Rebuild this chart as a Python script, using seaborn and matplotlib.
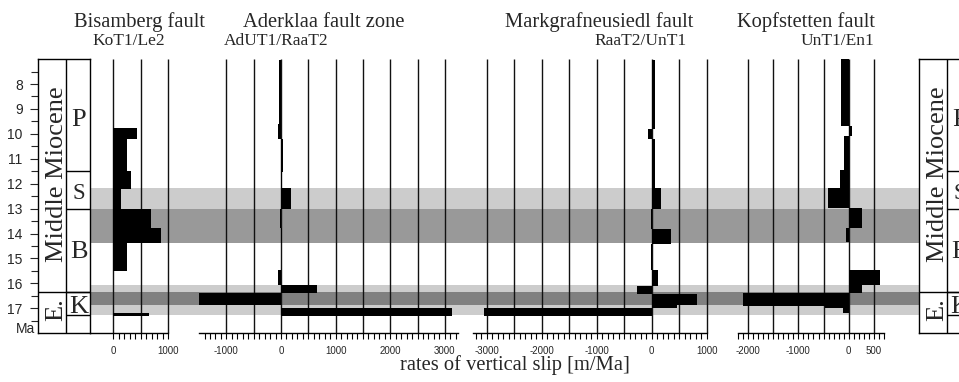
import numpy as np
import pandas as pd
import matplotlib
matplotlib.use("Agg")
import matplotlib.pyplot as plt
from matplotlib.ticker import FixedLocator, NullFormatter
import seaborn as sns

# ---------------- data ----------------
# Bisamberg fault (KoT1/Le2)
bis_top = [9.78, 10.22, 11.49, 12.20, 13.00, 13.77, 14.40, 17.17]
bis_bot = [10.22, 11.49, 12.20, 13.00, 13.77, 14.40, 15.50, 17.30]
bis_val = [430, 245, 320, 135, 680, 860, 255, 640]

# Aderklaa fault zone (AdUT1/RaaT2)
ade_top = [7.04, 9.60, 10.20, 11.52, 12.19, 13.02, 13.78, 14.38, 15.46, 16.07, 16.40, 16.97]
ade_bot = [9.60, 10.20, 11.52, 12.19, 13.02, 13.78, 14.38, 15.46, 16.07, 16.40, 16.87, 17.30]
ade_val = [-40, -60, 40, 10, 190, -25, 25, 5, -50, 660, -1500, 3140]

# Markgrafneusiedl fault (RaaT2/UnT1)
mark_top = [7.04, 9.80, 10.20, 12.19, 13.02, 13.80, 14.42, 15.46, 16.10, 16.42, 16.88, 17.00]
mark_bot = [9.80, 10.20, 12.19, 13.02, 13.80, 14.42, 15.46, 16.10, 16.42, 16.88, 17.00, 17.30]
mark_val = [50, -75, 60, 175, -10, 340, -15, 120, -270, 830, 455, -3050]

# Kopfstetten fault (UnT1/En1)
kopf_top = [7.00, 9.70, 10.10, 11.45, 12.19, 12.97, 13.77, 14.33, 15.46, 16.06, 16.39, 16.89, 17.00]
kopf_bot = [9.70, 10.10, 11.45, 12.19, 12.97, 13.77, 14.33, 15.46, 16.06, 16.39, 16.89, 17.00, 17.20]
kopf_val = [-160, 60, -100, -175, -405, 270, -60, 10, 625, 265, -2110, -470, -120]

fault_names = ["Bisamberg fault", "Aderklaa fault zone", "Markgrafneusiedl fault", "Kopfstetten fault"]
fault_codes = ["KoT1/Le2", "AdUT1/RaaT2", "RaaT2/UnT1", "UnT1/En1"]

grid_vals = [[0, 500, 1000],
             [-1000, -500, 0, 500, 1000, 1500, 2000, 2500, 3000],
             [-3000, -2500, -2000, -1500, -1000, -500, 0, 500, 1000],
             [-2000, -1500, -1000, -500, 0, 500]]
tick_labels = [[0, 1000],
               [-1000, 0, 1000, 2000, 3000],
               [-3000, -2000, -1000, 0, 1000],
               [-2000, -1000, 0, 500]]
minor_ranges = [(0, 1000), (-1400, 3200), (-3200, 1000), (-2200, 700)]
spine_bounds = [(-426, 1000), (-1500, 3240), (-3250, 1000), (-2200, 700)]

# stratigraphy
epoch_names = ["Middle Miocene", "E."]
epoch_bounds = [7.0, 16.36, 18.0]
stage_names = ["P", "S", "B", "K"]
stage_tops = [7.0, 11.5, 13.0, 16.36]
stage_bots = [11.5, 13.0, 16.36, 17.28]

# shaded intervals
light_tops = [12.18, 16.08]
light_bots = [13.00, 17.28]
dark_tops = [13.00, 16.36]
dark_bots = [14.38, 16.87]

age_ticks = list(range(8, 18))

# ---------------- figure ----------------
sns.set_style("white")
plt.rcParams["font.family"] = ["Liberation Serif", "DejaVu Serif"]
SANS = "Liberation Sans"

W, H = 959, 382
fig = plt.figure(figsize=(W / 100, H / 100), dpi=100)
Y0, Y1 = 59.1, 333.2
TMIN, TMAX = 7.0, 18.0


def ax_at(x0, x1, **kw):
    return fig.add_axes([x0 / W, 1 - Y1 / H, (x1 - x0) / W, (Y1 - Y0) / H], **kw)


# background bands
ax_bg = ax_at(90, 919)
ax_bg.set_ylim(TMAX, TMIN)
ax_bg.set_xlim(0, 1)
for t, b in zip(light_tops, light_bots):
    ax_bg.axhspan(t, b, color="#cccccc", lw=0)
ax_bg.axhspan(dark_tops[0], dark_bots[0], color="#999999", lw=0)
ax_bg.axhspan(dark_tops[1], dark_bots[1], color="#808080", lw=0)
ax_bg.axis("off")

# panels
panel_px = [(90, 186), (186, 466), (466, 724), (724, 919)]
zero_px = [113.4, 281.0, 651.8, 848.7]
scale_px = [0.0549, 0.0546, 0.0550, 0.0503]
tops = [bis_top, ade_top, mark_top, kopf_top]
bots = [bis_bot, ade_bot, mark_bot, kopf_bot]
vals = [bis_val, ade_val, mark_val, kopf_val]

for i in range(4):
    x0, x1 = panel_px[i]
    ax = ax_at(x0, x1)
    ax.patch.set_alpha(0)
    ax.set_xlim((x0 - zero_px[i]) / scale_px[i], (x1 - zero_px[i]) / scale_px[i])
    ax.set_ylim(TMAX, TMIN)
    df = pd.DataFrame({"top": tops[i], "bot": bots[i], "val": vals[i]})
    df["mid"] = (df["top"] + df["bot"]) / 2
    df["dur"] = df["bot"] - df["top"]
    ax.vlines(grid_vals[i], TMIN, TMAX, color="#111111", lw=1.0, zorder=1)
    ax.barh(df["mid"], df["val"], height=df["dur"], left=0, color="black", lw=0, zorder=2)
    for s in ["left", "right", "top"]:
        ax.spines[s].set_visible(False)
    ax.spines["bottom"].set_visible(True)
    ax.spines["bottom"].set_color("black")
    ax.spines["bottom"].set_linewidth(1.0)
    ax.spines["bottom"].set_bounds(*spine_bounds[i])
    ax.set_yticks([])
    ax.xaxis.set_major_locator(FixedLocator(tick_labels[i]))
    lo, hi = minor_ranges[i]
    ax.xaxis.set_minor_locator(FixedLocator(np.arange(lo, hi + 1, 100)))
    ax.xaxis.set_minor_formatter(NullFormatter())
    ax.set_xticklabels([str(v) for v in tick_labels[i]])
    ax.tick_params(axis="x", which="both", direction="out", bottom=True,
                   length=4.5, width=0.8, color="black", labelsize=7, pad=4.5,
                   labelfontfamily=SANS)
    ax.grid(False)


# stratigraphic columns
def strat_column(x0, with_ticks):
    axc = ax_at(x0, x0 + 52)
    axc.set_ylim(TMAX, TMIN)
    axc.set_xlim(0, 52)
    for s in axc.spines.values():
        s.set_visible(True)
        s.set_color("black")
        s.set_linewidth(1.0)
    axc.set_xticks([])
    axc.axvline(28, color="black", lw=1.0)
    axc.hlines(epoch_bounds[1], 0, 52, color="black", lw=1.0)
    axc.hlines(stage_tops[1:] + [stage_bots[-1]], 28, 52, color="black", lw=1.0)
    axc.text(25, (epoch_bounds[0] + epoch_bounds[1]) / 2 - 0.05, epoch_names[0],
             rotation=90, rotation_mode="anchor", ha="center", va="baseline",
             fontsize=19)
    axc.text(24.5, 17.07, epoch_names[1], rotation=90, rotation_mode="anchor",
             ha="center", va="baseline", fontsize=19)
    base = [9.69, 12.62, 14.98, 17.19]
    sizes = [19, 16.5, 19, 19]
    for name, b, fs in zip(stage_names, base, sizes):
        axc.text(41, b, name, ha="center", va="baseline", fontsize=fs)
    if with_ticks:
        axc.yaxis.set_major_locator(FixedLocator(age_ticks))
        axc.yaxis.set_minor_locator(FixedLocator(np.arange(7.5, 18, 0.5)))
        axc.yaxis.set_minor_formatter(NullFormatter())
        axc.set_yticklabels([str(v) for v in age_ticks])
        axc.tick_params(axis="y", which="major", left=True, direction="out",
                        length=6, width=0.8, labelsize=10, pad=5,
                        labelfontfamily=SANS)
        axc.tick_params(axis="y", which="minor", left=True, direction="out",
                        length=5, width=0.8)
        axc.text(-3, 17.98, "Ma", ha="right", va="baseline", fontsize=10,
                 family=SANS)
    else:
        axc.set_yticks([])
    return axc


strat_column(38, True)
strat_column(919, False)


# titles
def ftext(x, y, s, **kw):
    fig.text(x / W, 1 - y / H, s, **kw)


title_x = [139.5, 324, 599, 806]
code_x = [129, 276.5, 641, 837]
for name, code, tx, cx in zip(fault_names, fault_codes, title_x, code_x):
    ftext(tx, 27, name, ha="center", va="baseline", fontsize=14.8)
    ftext(cx, 45, code, ha="center", va="baseline", fontsize=12.5)

ftext(515, 370, "rates of vertical slip [m/Ma]", ha="center", va="baseline",
      fontsize=14.8)

fig.savefig("out.png", dpi=100)
